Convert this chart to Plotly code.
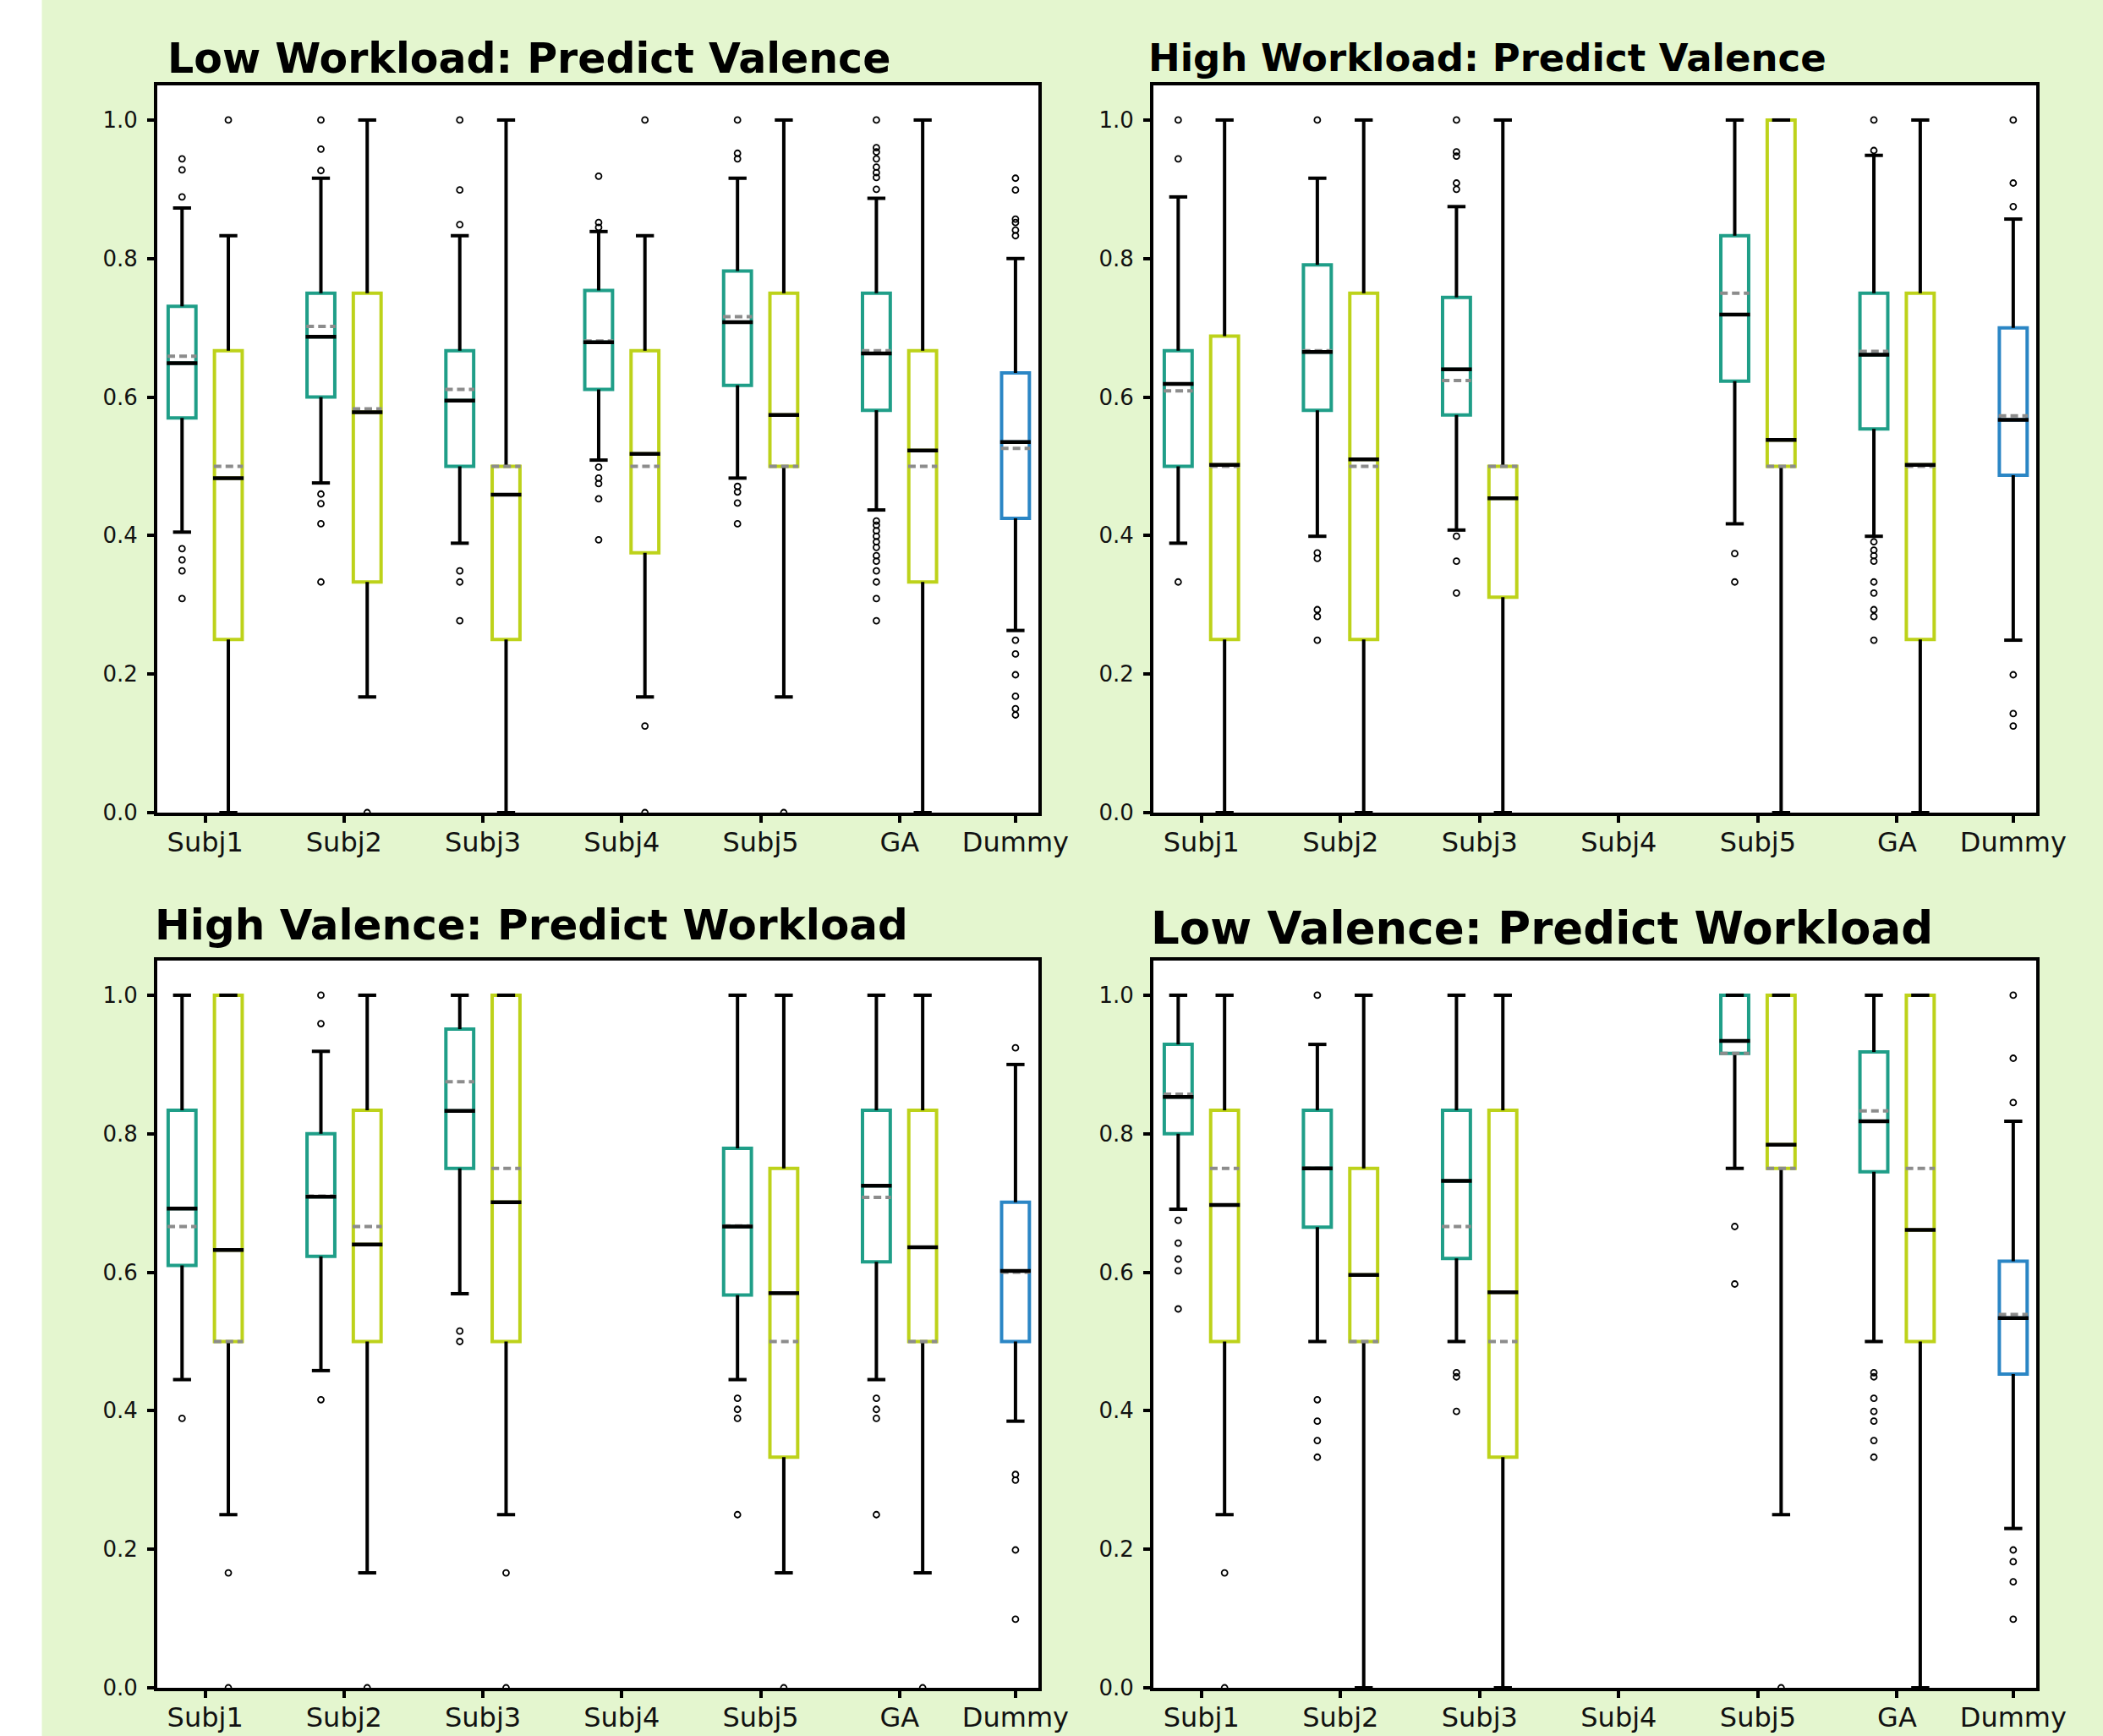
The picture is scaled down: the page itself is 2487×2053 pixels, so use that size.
import plotly.graph_objects as go

# ---------------- data ----------------
CATEGORIES = ["Subj1", "Subj2", "Subj3", "Subj4", "Subj5", "GA", "Dummy"]
TITLES = ["Low Workload: Predict Valence", "High Workload: Predict Valence",
          "High Valence: Predict Workload", "Low Valence: Predict Workload"]

# each row: [lower whisker, q1, median, q3, upper whisker, mean]; order Subj1..Subj5, GA
LW_TEAL = [
    [0.405, 0.570, 0.649, 0.731, 0.873, 0.659],
    [0.476, 0.600, 0.687, 0.750, 0.916, 0.702],
    [0.389, 0.500, 0.595, 0.667, 0.833, 0.611],
    [0.509, 0.611, 0.679, 0.754, 0.839, 0.681],
    [0.483, 0.617, 0.708, 0.782, 0.916, 0.716],
    [0.437, 0.581, 0.663, 0.750, 0.887, 0.667],
]
LW_YELLOW = [
    [0.000, 0.250, 0.483, 0.667, 0.833, 0.500],
    [0.167, 0.333, 0.578, 0.750, 1.000, 0.583],
    [0.000, 0.250, 0.459, 0.500, 1.000, 0.500],
    [0.167, 0.375, 0.518, 0.667, 0.833, 0.500],
    [0.167, 0.500, 0.574, 0.750, 1.000, 0.500],
    [0.000, 0.333, 0.523, 0.667, 1.000, 0.500],
]
LW_DUMMY = [0.263, 0.425, 0.535, 0.635, 0.800, 0.526]
LW_TEAL_OUT = [
    [0.944, 0.928, 0.889, 0.381, 0.365, 0.349, 0.309],
    [1.0, 0.958, 0.927, 0.460, 0.446, 0.417, 0.333],
    [1.0, 0.899, 0.849, 0.349, 0.333, 0.277],
    [0.919, 0.852, 0.845, 0.499, 0.483, 0.475, 0.453, 0.394],
    [1.0, 0.952, 0.944, 0.471, 0.463, 0.447, 0.417],
    [1.0, 0.960, 0.954, 0.944, 0.932, 0.924, 0.917, 0.900, 0.421, 0.415, 0.407,
     0.399, 0.391, 0.383, 0.371, 0.363, 0.349, 0.333, 0.309, 0.277],
]
LW_YELLOW_OUT = [[1.0], [0.0], [], [1.0, 0.125, 0.0], [0.0], []]
LW_DUMMY_OUT = [0.916, 0.899, 0.857, 0.852, 0.841, 0.833, 0.249, 0.229, 0.199, 0.168, 0.150, 0.141]

HW_TEAL = [
    [0.389, 0.500, 0.619, 0.667, 0.889, 0.609],
    [0.399, 0.581, 0.665, 0.791, 0.916, 0.667],
    [0.408, 0.574, 0.640, 0.744, 0.875, 0.624],
    None,
    [0.417, 0.623, 0.719, 0.833, 1.000, 0.750],
    [0.399, 0.554, 0.661, 0.750, 0.949, 0.666],
]
HW_YELLOW = [
    [0.000, 0.250, 0.502, 0.688, 1.000, 0.500],
    [0.000, 0.250, 0.510, 0.750, 1.000, 0.500],
    [0.000, 0.311, 0.454, 0.500, 1.000, 0.500],
    None,
    [0.000, 0.500, 0.538, 1.000, 1.000, 0.500],
    [0.000, 0.250, 0.502, 0.750, 1.000, 0.500],
]
HW_DUMMY = [0.249, 0.487, 0.567, 0.700, 0.857, 0.573]
HW_TEAL_OUT = [
    [1.0, 0.944, 0.333],
    [1.0, 0.375, 0.367, 0.293, 0.283, 0.249],
    [1.0, 0.954, 0.948, 0.909, 0.900, 0.399, 0.363, 0.317],
    [],
    [0.374, 0.333],
    [1.0, 0.956, 0.391, 0.379, 0.371, 0.363, 0.333, 0.317, 0.293, 0.283, 0.249],
]
HW_YELLOW_OUT = [[], [], [], [], [], []]
HW_DUMMY_OUT = [1.0, 0.909, 0.875, 0.199, 0.143, 0.125]

HV_TEAL = [
    [0.445, 0.610, 0.692, 0.834, 1.000, 0.666],
    [0.458, 0.623, 0.709, 0.800, 0.919, 0.710],
    [0.569, 0.750, 0.833, 0.951, 1.000, 0.875],
    None,
    [0.445, 0.567, 0.666, 0.779, 1.000, 0.667],
    [0.445, 0.615, 0.725, 0.834, 1.000, 0.708],
]
HV_YELLOW = [
    [0.250, 0.500, 0.632, 1.000, 1.000, 0.500],
    [0.166, 0.500, 0.640, 0.834, 1.000, 0.666],
    [0.250, 0.500, 0.701, 1.000, 1.000, 0.750],
    None,
    [0.166, 0.333, 0.570, 0.750, 1.000, 0.500],
    [0.166, 0.500, 0.636, 0.834, 1.000, 0.500],
]
HV_DUMMY = [0.385, 0.500, 0.602, 0.701, 0.900, 0.600]
HV_TEAL_OUT = [[0.389], [1.0, 0.959, 0.416], [0.515, 0.500], [],
               [0.418, 0.402, 0.389, 0.250], [0.418, 0.402, 0.389, 0.250]]
HV_YELLOW_OUT = [[0.166, 0.0], [0.0], [0.166, 0.0], [], [0.0], [0.0]]
HV_DUMMY_OUT = [0.924, 0.308, 0.300, 0.199, 0.099]

LV_TEAL = [
    [0.691, 0.800, 0.853, 0.929, 1.000, 0.857],
    [0.500, 0.665, 0.750, 0.834, 0.929, 0.750],
    [0.500, 0.620, 0.732, 0.834, 1.000, 0.666],
    None,
    [0.750, 0.916, 0.934, 1.000, 1.000, 0.916],
    [0.500, 0.745, 0.818, 0.918, 1.000, 0.833],
]
LV_YELLOW = [
    [0.250, 0.500, 0.697, 0.834, 1.000, 0.750],
    [0.000, 0.500, 0.596, 0.750, 1.000, 0.500],
    [0.000, 0.333, 0.571, 0.834, 1.000, 0.500],
    None,
    [0.250, 0.750, 0.784, 1.000, 1.000, 0.750],
    [0.000, 0.500, 0.661, 1.000, 1.000, 0.750],
]
LV_DUMMY = [0.230, 0.453, 0.534, 0.616, 0.818, 0.539]
LV_TEAL_OUT = [[0.675, 0.642, 0.619, 0.602, 0.547], [1.0, 0.416, 0.385, 0.357, 0.333],
               [0.455, 0.449, 0.399], [], [0.666, 0.583],
               [0.455, 0.449, 0.418, 0.399, 0.385, 0.357, 0.333]]
LV_YELLOW_OUT = [[0.166, 0.0], [], [], [], [0.0], []]
LV_DUMMY_OUT = [1.0, 0.909, 0.845, 0.199, 0.182, 0.153, 0.099]

# ---------------- layout / style ----------------
W, H = 2487, 2053
TICK_POS = [1, 2, 3, 4, 5, 6, 6.835]
OFFSET = 1 / 6
BOX_W = 0.2
CAP_HALF = 0.065
MED_HALF = 0.11
TEAL = "#1f9e88"
YELLOW = "#bdd21a"
BLUE = "#2b86c5"
BG = "#e4f6cf"
FONT = "DejaVu Sans"

PANELS = [
    dict(data=(LW_TEAL, LW_TEAL_OUT, LW_YELLOW, LW_YELLOW_OUT, LW_DUMMY, LW_DUMMY_OUT),
         px=(186, 1228), py=(101, 961), tsize=49, tx=196, tbase=87),
    dict(data=(HW_TEAL, HW_TEAL_OUT, HW_YELLOW, HW_YELLOW_OUT, HW_DUMMY, HW_DUMMY_OUT),
         px=(1364, 2408), py=(101, 961), tsize=45, tx=1356, tbase=85),
    dict(data=(HV_TEAL, HV_TEAL_OUT, HV_YELLOW, HV_YELLOW_OUT, HV_DUMMY, HV_DUMMY_OUT),
         px=(186, 1228), py=(1136, 1996), tsize=50, tx=181, tbase=1112),
    dict(data=(LV_TEAL, LV_TEAL_OUT, LV_YELLOW, LV_YELLOW_OUT, LV_DUMMY, LV_DUMMY_OUT),
         px=(1364, 2408), py=(1136, 1996), tsize=53, tx=1359, tbase=1116),
]

fig = go.Figure()
annotations = []

for k, p in enumerate(PANELS):
    n = "" if k == 0 else str(k + 1)
    xa, ya = "x" + n, "y" + n
    teal, teal_out, yel, yel_out, dummy, dummy_out = p["data"]
    groups = [(teal, teal_out, -OFFSET, TEAL), (yel, yel_out, OFFSET, YELLOW)]

    wx, wy, mx, my, dx, dy, ox, oy = [], [], [], [], [], [], [], []

    def collect(pos, s, outs):
        lo, q1, med, q3, hi, mean = s
        wx.extend([pos, pos, None, pos, pos, None,
                   pos - CAP_HALF, pos + CAP_HALF, None, pos - CAP_HALF, pos + CAP_HALF, None])
        wy.extend([q1, lo, None, q3, hi, None, lo, lo, None, hi, hi, None])
        mx.extend([pos - 0.105, pos + 0.105, None])
        my.extend([mean, mean, None])
        dx.extend([pos - MED_HALF, pos + MED_HALF, None])
        dy.extend([med, med, None])
        for v in outs:
            ox.append(pos)
            oy.append(v)

    for stats, outs, off, color in groups:
        pos_l, q1_l, med_l, q3_l = [], [], [], []
        for i, s in enumerate(stats):
            if s is None:
                continue
            pos = TICK_POS[i] + off
            pos_l.append(pos)
            q1_l.append(s[1]); med_l.append(s[2]); q3_l.append(s[3])
            collect(pos, s, outs[i])
        fig.add_trace(go.Box(x=pos_l, q1=q1_l, median=med_l, q3=q3_l,
                             lowerfence=q1_l, upperfence=q3_l, width=BOX_W,
                             line=dict(color=color, width=4), fillcolor="rgba(0,0,0,0)",
                             whiskerwidth=0, boxpoints=False, hoverinfo="skip",
                             showlegend=False, xaxis=xa, yaxis=ya))
    dpos = TICK_POS[6]
    fig.add_trace(go.Box(x=[dpos], q1=[dummy[1]], median=[dummy[2]], q3=[dummy[3]],
                         lowerfence=[dummy[1]], upperfence=[dummy[3]], width=BOX_W,
                         line=dict(color=BLUE, width=4), fillcolor="rgba(0,0,0,0)",
                         whiskerwidth=0, boxpoints=False, hoverinfo="skip",
                         showlegend=False, xaxis=xa, yaxis=ya))
    collect(dpos, dummy, dummy_out)

    fig.add_trace(go.Scatter(x=wx, y=wy, mode="lines", line=dict(color="black", width=4),
                             hoverinfo="skip", showlegend=False, xaxis=xa, yaxis=ya))
    fig.add_trace(go.Scatter(x=mx, y=my, mode="lines",
                             line=dict(color="#8c8c8c", width=4, dash="9px,5px"),
                             hoverinfo="skip", showlegend=False, xaxis=xa, yaxis=ya))
    fig.add_trace(go.Scatter(x=dx, y=dy, mode="lines", line=dict(color="black", width=4.5),
                             hoverinfo="skip", showlegend=False, xaxis=xa, yaxis=ya))
    fig.add_trace(go.Scatter(x=ox, y=oy, mode="markers",
                             marker=dict(symbol="circle-open", size=7, color="black",
                                         line=dict(width=1.8, color="black")),
                             hoverinfo="skip", showlegend=False, xaxis=xa, yaxis=ya))

    xdom = [p["px"][0] / W, p["px"][1] / W]
    ydom = [1 - p["py"][1] / H, 1 - p["py"][0] / H]
    axis_common = dict(showline=True, linecolor="black", linewidth=4, mirror=True,
                       showgrid=False, zeroline=False, ticks="outside", ticklen=8,
                       tickwidth=3.5, tickcolor="black", automargin=False)
    fig.layout["xaxis" + n] = dict(
        axis_common, domain=xdom, anchor=ya, range=[0.655, 7.0],
        tickmode="array", tickvals=TICK_POS, ticktext=CATEGORIES,
        tickfont=dict(family=FONT, size=32, color="#111111"), ticklabelstandoff=-4)
    fig.layout["yaxis" + n] = dict(
        axis_common, domain=ydom, anchor=xa, range=[0, 1.05],
        tickmode="array", tickvals=[0, 0.2, 0.4, 0.6, 0.8, 1.0],
        ticktext=["0.0", "0.2", "0.4", "0.6", "0.8", "1.0"],
        tickfont=dict(family=FONT, size=26, color="#111111"), ticklabelstandoff=6)

    bottom_px = p["tbase"] + 0.236 * p["tsize"] + 1
    annotations.append(dict(text="<b>" + TITLES[k] + "</b>", xref="paper", yref="paper",
                            x=p["tx"] / W, y=1 - bottom_px / H, xanchor="left",
                            yanchor="bottom", showarrow=False,
                            font=dict(family=FONT, size=p["tsize"], color="black")))

fig.update_layout(
    width=W, height=H, margin=dict(l=0, r=0, t=0, b=0, autoexpand=False),
    paper_bgcolor=BG, plot_bgcolor="white", boxmode="overlay",
    annotations=annotations, showlegend=False,
    shapes=[dict(type="rect", xref="paper", yref="paper", x0=0, x1=49.5 / W, y0=0, y1=1,
                 fillcolor="white", line=dict(width=0), layer="below")],
)

fig.write_html("out.html", config={"displayModeBar": False},
               post_script="document.body.style.margin='0px';")
